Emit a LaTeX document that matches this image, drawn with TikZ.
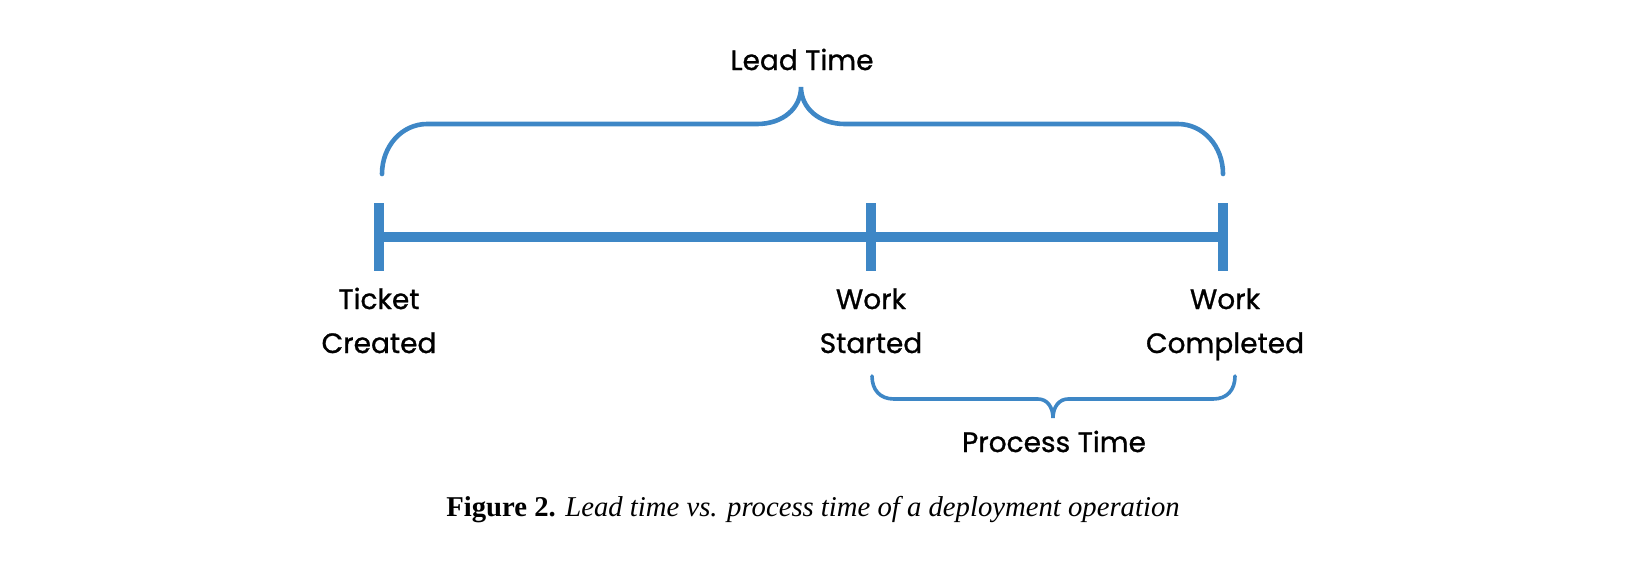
\documentclass[tikz,border=0pt]{standalone}
\usepackage{fontspec}
\setmainfont{Liberation Serif}
\newfontfamily\labelfont[FakeBold=0.9]{Poppins}
\definecolor{tlblue}{RGB}{62,135,198}
\tikzset{
  bar/.style={draw=tlblue, line width=5pt},
  tick/.style={draw=tlblue, line width=5pt},
  bracelead/.style={draw=tlblue, line width=2.3pt, line cap=round},
  braceproc/.style={draw=tlblue, line width=1.8pt, line cap=round},
  lbl/.style={font=\labelfont\fontsize{14}{22}\selectfont, align=center, inner sep=0pt, anchor=base, text=black},
}
\begin{document}
\begin{tikzpicture}[x=0.5pt,y=-0.5pt]
\useasboundingbox (0,0) rectangle (1625,569);
% timeline points
\coordinate (tc) at (379,237);
\coordinate (ws) at (871,237);
\coordinate (wc) at (1223,237);
% timeline
\draw[bar] (tc) -- (wc);
\draw[tick] ([yshift=17pt]tc) -- ([yshift=-17pt]tc);
\draw[tick] ([yshift=17pt]ws) -- ([yshift=-17pt]ws);
\draw[tick] ([yshift=17pt]wc) -- ([yshift=-17pt]wc);
% lead time brace
\coordinate (ll) at (382,174);
\coordinate (lr) at (1223,174);
\coordinate (lt) at (801,87);
\draw[bracelead] (ll) .. controls (382,146) and (402,124) .. (427,124) -- (757,124)
  .. controls (783,124) and (801,108) .. (lt)
  .. controls (801,108) and (819,124) .. (845,124) -- (1178,124)
  .. controls (1203,124) and (1223,146) .. (lr);
% process time brace
\coordinate (pl) at (872,376);
\coordinate (pr) at (1235,376);
\coordinate (pt) at (1053,418);
\draw[braceproc] (pl) .. controls (872,390) and (880,399) .. (894,399) -- (1038,399)
  .. controls (1047,399) and (1053,407) .. (pt)
  .. controls (1053,407) and (1059,399) .. (1068,399) -- (1213,399)
  .. controls (1227,399) and (1235,390) .. (pr);
% labels
\node[lbl] (leadlbl) at (802,70) {Lead Time};
\node[lbl] (tclbl) at (379,353) {Ticket\\Created};
\node[lbl] (wslbl) at (871,353) {Work\\Started};
\node[lbl] (wclbl) at (1225,353) {Work\\Completed};
\node[lbl] (proclbl) at (1054,452) {Process Time};
% caption
\node[font=\fontsize{14.35}{17}\selectfont, inner sep=0pt, anchor=base] (cap) at (813,516)
  {\textbf{Figure 2.} \textit{Lead time vs. process time of a deployment operation}};
\end{tikzpicture}
\end{document}
